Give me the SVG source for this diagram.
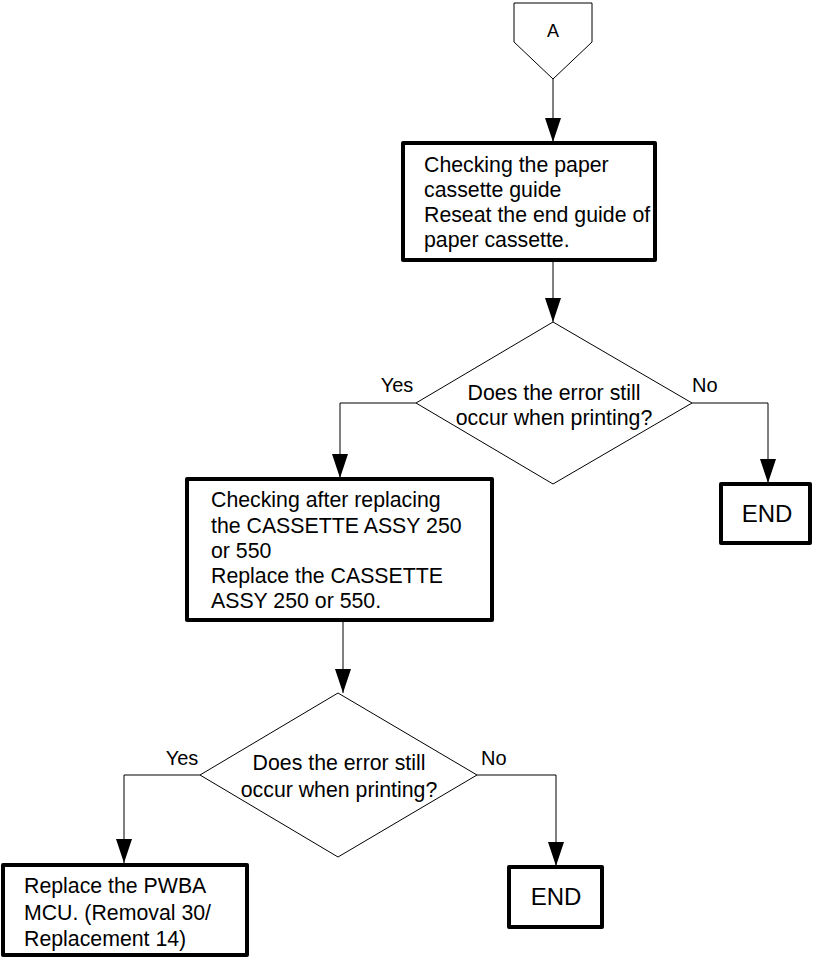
<svg xmlns="http://www.w3.org/2000/svg" width="814" height="960" viewBox="0 0 814 960">
<style>
text{font-family:"Liberation Sans",Arial,sans-serif;font-size:21.3px;fill:#000}
.lbl{font-size:20px}
.endt{font-size:24px}
.box{fill:#fff;stroke:#000;stroke-width:4;stroke-linejoin:round}
.thin{fill:#fff;stroke:#000;stroke-width:1}
.c{fill:none;stroke:#000;stroke-width:1}
.m{text-anchor:middle}
</style>
<defs>
<marker id="ah" markerWidth="24" markerHeight="16" refX="24" refY="8" orient="auto" markerUnits="userSpaceOnUse" viewBox="0 0 24 16">
<path d="M0,0 L24,8 L0,16 z" fill="#000"/>
</marker>
</defs>
<g id="connectors">
<path class="c" d="M553,79 V142" marker-end="url(#ah)"/>
<path class="c" d="M553,260 V322" marker-end="url(#ah)"/>
<path class="c" d="M416,403 H340 V478" marker-end="url(#ah)"/>
<path class="c" d="M692,403 H768 V483" marker-end="url(#ah)"/>
<path class="c" d="M343,620 V693" marker-end="url(#ah)"/>
<path class="c" d="M200,775 H124 V863" marker-end="url(#ah)"/>
<path class="c" d="M477,775 H556 V866" marker-end="url(#ah)"/>
</g>
<g id="connA">
<path class="thin" d="M514,3 H592 V42 L553,79 L514,42 Z"/>
<text x="553" y="37" class="m" style="font-size:18px">A</text>
</g>
<g id="box1">
<rect class="box" x="403" y="143" width="252" height="117"/>
<text x="424" y="172">Checking the paper</text>
<text x="424" y="197">cassette guide</text>
<text x="424" y="222">Reseat the end guide of</text>
<text x="424" y="247">paper cassette.</text>
</g>
<g id="dec1">
<path class="thin" d="M553,322 L692,403 L553,484 L416,403 Z"/>
<text x="554" y="400" class="m">Does the error still</text>
<text x="554" y="425" class="m">occur when printing?</text>
<text x="397" y="392" class="m lbl">Yes</text>
<text x="692" y="392" class="lbl">No</text>
</g>
<g id="end1">
<rect class="box" x="721" y="484" width="89" height="59"/>
<text x="767" y="522" class="m endt">END</text>
</g>
<g id="box2">
<rect class="box" x="187" y="479" width="305" height="141"/>
<text x="211" y="507">Checking after replacing</text>
<text x="211" y="533">the CASSETTE ASSY 250</text>
<text x="211" y="558">or 550</text>
<text x="211" y="583">Replace the CASSETTE</text>
<text x="211" y="608">ASSY 250 or 550.</text>
</g>
<g id="dec2">
<path class="thin" d="M338,693 L477,775 L338,857 L200,775 Z"/>
<text x="339" y="770" class="m">Does the error still</text>
<text x="339" y="797" class="m">occur when printing?</text>
<text x="182" y="765" class="m lbl">Yes</text>
<text x="481" y="765" class="lbl">No</text>
</g>
<g id="box3">
<rect class="box" x="3" y="865" width="244" height="90"/>
<text x="24" y="893">Replace the PWBA</text>
<text x="24" y="920">MCU. (Removal 30/</text>
<text x="24" y="946">Replacement 14)</text>
</g>
<g id="end2">
<rect class="box" x="509" y="867" width="93" height="60"/>
<text x="556" y="905" class="m endt">END</text>
</g>
</svg>
